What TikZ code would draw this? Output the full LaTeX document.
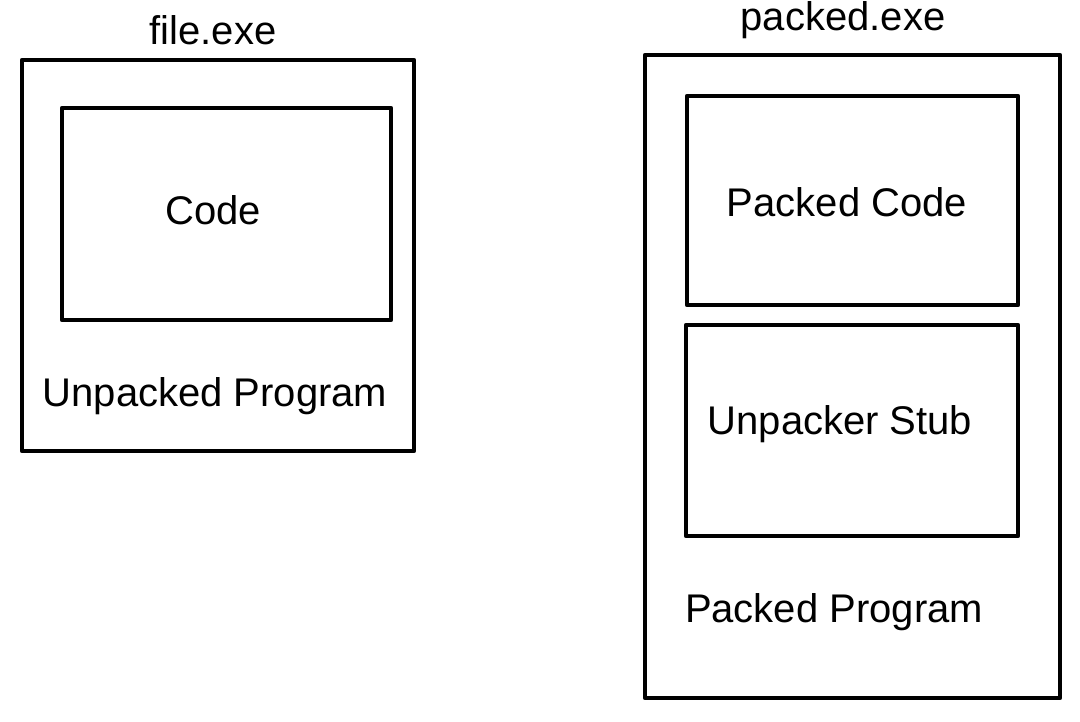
\documentclass[tikz,border=0pt]{standalone}
\usepackage{fontspec}
\setmainfont{Liberation Sans}
\begin{document}
\begin{tikzpicture}[x=1pt,y=-1pt,
  box/.style={draw=black,line width=4.5pt,line cap=round,line join=round},
  lbl/.style={font=\fontsize{40}{48}\selectfont,inner sep=0pt,anchor=center}]
\useasboundingbox (0,0) rectangle (1080,721);
% left
\draw[box] (22,60) rectangle (414,451);
\draw[box] (62,108) rectangle (391,320);
\node[lbl] (fileexe) at (213,30) {file.exe};
\node[lbl] (code) at (213,210) {Code};
\node[lbl] (unp) at (215,396) {Unpacked Program};
% right
\draw[box] (645,55) rectangle (1060,698);
\draw[box] (687,96) rectangle (1018,305);
\draw[box] (686,325) rectangle (1018,536);
\node[lbl] (packedexe) at (843,20) {packed.exe};
\node[lbl] (pcode) at (847,202) {Packed Code};
\node[lbl] (stub) at (840,424) {Unpacker Stub};
\node[lbl] (pprog) at (834,612) {Packed Program};
\end{tikzpicture}
\end{document}
